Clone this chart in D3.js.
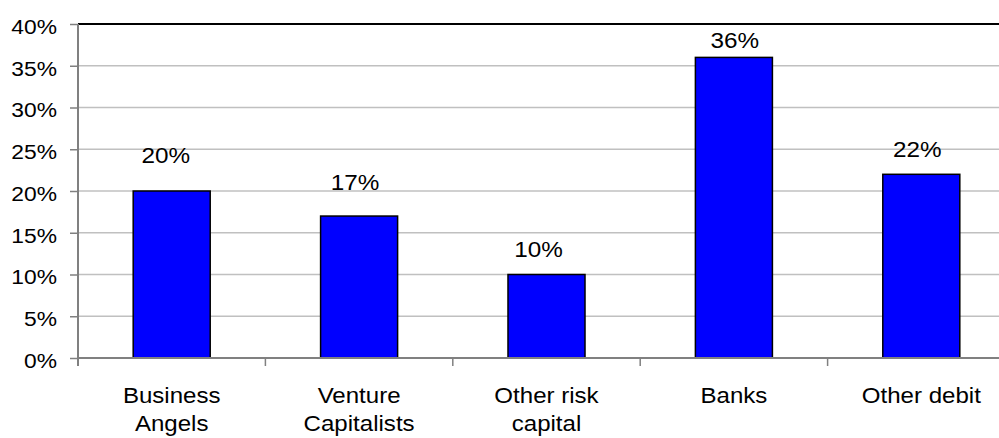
<!DOCTYPE html>
<html>
<head>
<meta charset="utf-8">
<script src="https://cdn.jsdelivr.net/npm/d3@7/dist/d3.min.js"></script>
<style>
  html, body { margin: 0; padding: 0; background: #fff; }
  svg { display: block; }
  text { font-family: "Liberation Sans", Arial, sans-serif; fill: #000; }
</style>
</head>
<body>
<svg id="chart" width="999" height="438"></svg>
<script>
// Share of funding sources
const categories = ["Business Angels", "Venture Capitalists", "Other risk capital", "Banks", "Other debit"];
const categoryLines = [["Business", "Angels"], ["Venture", "Capitalists"], ["Other risk", "capital"], ["Banks"], ["Other debit"]];
const shares = [20, 17, 10, 36, 22];
const yTicks = [0, 5, 10, 15, 20, 25, 30, 35, 40];

const svg = d3.select("#chart");
const plotLeft = 78, plotRight = 1015, plotTop = 24, plotBottom = 358;

const x = d3.scaleBand().domain(categories).range([plotLeft, plotRight])
  .paddingInner(0.589).paddingOuter(0.2945);
const y = d3.scaleLinear().domain([0, 40]).range([plotBottom, plotTop]);

// Horizontal gridlines
svg.append("g").selectAll("line").data(yTicks.filter(t => t > 0 && t < 40)).join("line")
  .attr("x1", plotLeft).attr("x2", plotRight)
  .attr("y1", d => y(d)).attr("y2", d => y(d))
  .attr("stroke", "#c0c0c0").attr("stroke-width", 1.5);

// Top border of the plot area
svg.append("line").attr("x1", plotLeft).attr("x2", plotRight)
  .attr("y1", y(40)).attr("y2", y(40))
  .attr("stroke", "#000").attr("stroke-width", 2);

// Bars
svg.append("g").selectAll("rect").data(categories).join("rect")
  .attr("x", d => x(d))
  .attr("y", (d, i) => y(shares[i]))
  .attr("width", x.bandwidth())
  .attr("height", (d, i) => y(0) - y(shares[i]))
  .attr("fill", "#0000ff")
  .attr("stroke", "#000").attr("stroke-width", 1.5);

// Y axis
const yAxis = d3.axisLeft(y).tickValues(yTicks).tickFormat(d => d + "%").tickSize(8).tickPadding(13);
const gy = svg.append("g").attr("transform", `translate(${plotLeft},0)`).call(yAxis);
gy.select(".domain").remove();
gy.selectAll(".tick line").attr("stroke", "#808080").attr("stroke-width", 1.5);
gy.selectAll(".tick text")
  .attr("font-size", 19.5).attr("dy", "0.38em").attr("x", null)
  .attr("transform", "translate(-21,2) scale(1.17,1)")
  .attr("text-anchor", "end");
svg.append("line").attr("x1", plotLeft).attr("x2", plotLeft)
  .attr("y1", plotTop).attr("y2", plotBottom + 8)
  .attr("stroke", "#808080").attr("stroke-width", 2);

// X axis baseline and category boundary ticks
svg.append("line").attr("x1", plotLeft).attr("x2", plotRight)
  .attr("y1", plotBottom).attr("y2", plotBottom)
  .attr("stroke", "#808080").attr("stroke-width", 2);
const boundaries = d3.range(categories.length + 1).map(i => plotLeft + i * x.step());
svg.append("g").selectAll("line").data(boundaries).join("line")
  .attr("x1", d => d).attr("x2", d => d)
  .attr("y1", plotBottom).attr("y2", plotBottom + 8)
  .attr("stroke", "#808080").attr("stroke-width", 1.5);

// Category labels
const cat = svg.append("g").selectAll("text").data(categories).join("text")
  .attr("transform", d => `translate(${x(d) + x.bandwidth() / 2},403) scale(1.12,1)`)
  .attr("text-anchor", "middle").attr("font-size", 21.5);
cat.selectAll("tspan").data((d, i) => categoryLines[i]).join("tspan")
  .attr("x", 0).attr("y", (d, j) => j * 28).text(d => d);

// Value labels above the bars (hand-placed offsets from each bar top)
const labelGap = [28, 26, 18, 9, 17];
const labelShift = [-6, -4, -8, 1, -4];
svg.append("g").selectAll("text").data(categories).join("text")
  .attr("transform", (d, i) =>
    `translate(${x(d) + x.bandwidth() / 2 + labelShift[i]},${y(shares[i]) - labelGap[i]}) scale(1.13,1)`)
  .attr("text-anchor", "middle").attr("font-size", 21.5)
  .text((d, i) => shares[i] + "%");
</script>
</body>
</html>
